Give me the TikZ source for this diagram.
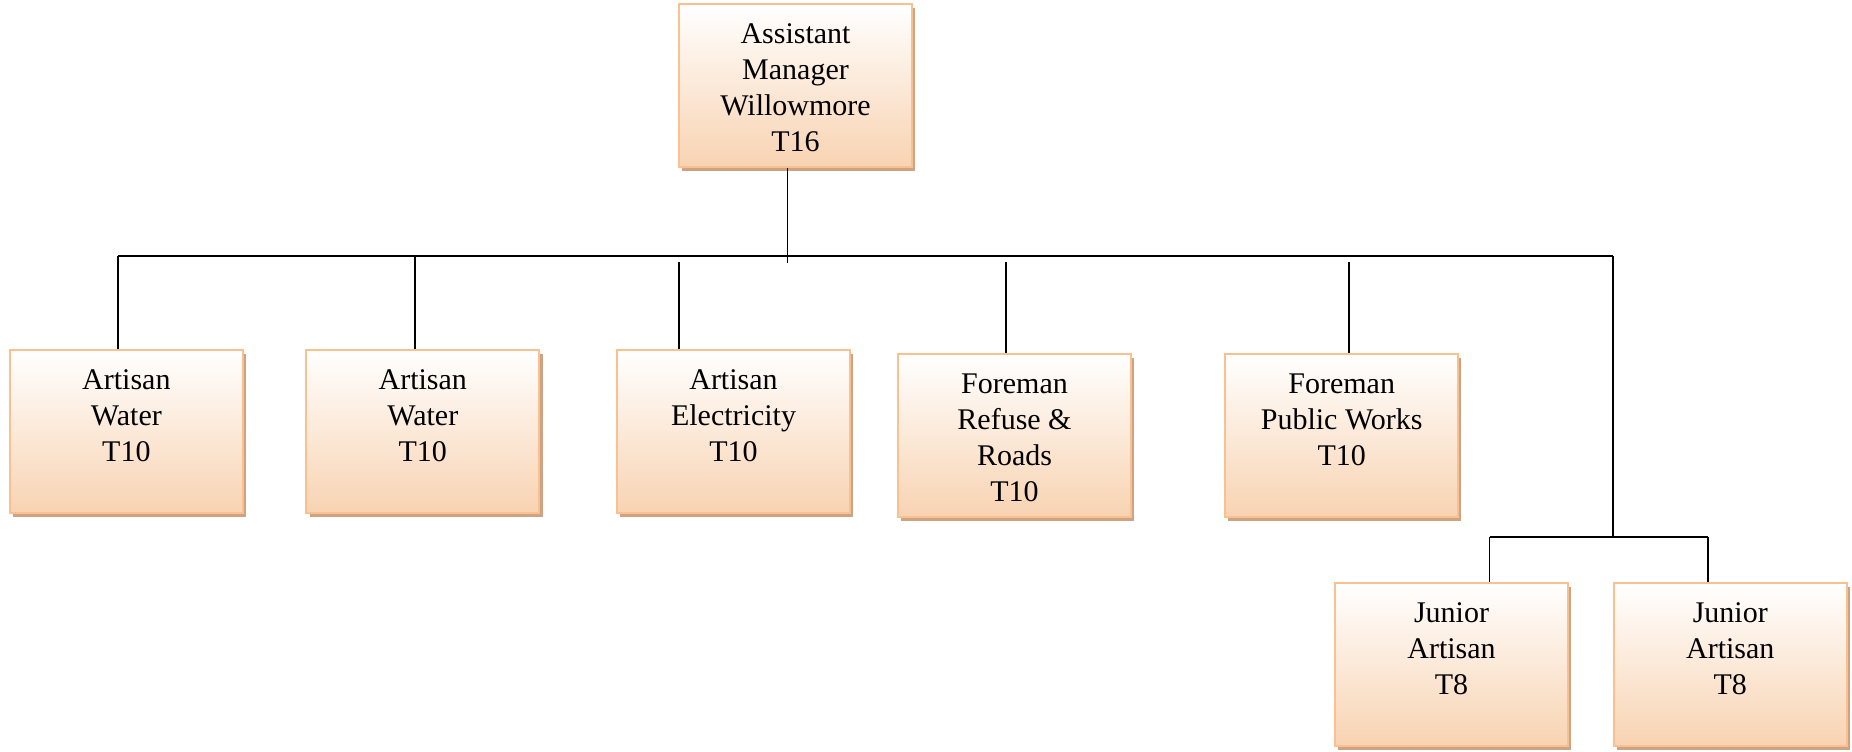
\documentclass[tikz,border=0pt]{standalone}
\usepackage{fontspec}
\setmainfont{Liberation Serif}
\usetikzlibrary{calc,shadows}
\definecolor{boxline}{RGB}{250,192,143}
\definecolor{boxbottom}{RGB}{248,211,178}
\definecolor{boxshadow}{RGB}{205,163,132}
% text block anchored near the top of each box
\newcommand\orgtext[1]{\parbox[c][81.5pt][t]{116pt}{\centering\rule{0pt}{19.5pt}#1}}
\tikzset{
  post/.style={draw=boxline, line width=1.1pt, top color=white, bottom color=boxbottom,
    inner sep=0pt, minimum width=116.5pt, minimum height=81.5pt,
    general shadow={fill=boxshadow, shadow xshift=1.6pt, shadow yshift=-2.2pt},
    font=\fontsize{15pt}{18pt}\selectfont},
  wire/.style={draw=black, line width=0.9pt}
}
\begin{document}
\begin{tikzpicture}[x=0.5pt,y=-0.5pt]
\useasboundingbox (0,0) rectangle (1852,751);
% posts
\node[post] (top) at (795.5,85.5) {\orgtext{Assistant\\Manager\\Willowmore\\T16}};
\node[post] (b1) at (126.4,431.5) {\orgtext{Artisan\\Water\\T10}};
\node[post] (b2) at (422.8,431.5) {\orgtext{Artisan\\Water\\T10}};
\node[post] (b3) at (733.5,431.5) {\orgtext{Artisan\\Electricity\\T10}};
\node[post] (b4) at (1014.5,435.5) {\orgtext{Foreman\\Refuse \&\\Roads\\T10}};
\node[post] (b5) at (1341.7,435.5) {\orgtext{Foreman\\Public Works\\T10}};
\node[post] (j1) at (1451.5,664.5) {\orgtext{Junior\\Artisan\\T8}};
\node[post] (j2) at (1730.3,664.5) {\orgtext{Junior\\Artisan\\T8}};
% bus and tap points
\coordinate (busL) at (118,256);
\coordinate (busR) at (1613,256);
\coordinate (t2) at (414.6,256);
\coordinate (t3) at (679.1,262);
\coordinate (t4) at (1006.3,262);
\coordinate (t5) at (1348.8,262);
\coordinate (jbus) at (1613,537);
\coordinate (jL) at (1489.5,537);
\coordinate (jR) at (1708,537);
\draw[wire] (busL) -- (busR);
\draw[wire] ($(top.south)+(-8,0)$) -- ++(0,95);
% branches to the first row
\draw[wire] (busL) -- (busL |- b1.north);
\draw[wire] (t2) -- (t2 |- b2.north);
\draw[wire] (t3) -- (t3 |- b3.north);
\draw[wire] (t4) -- (t4 |- b4.north);
\draw[wire] (t5) -- (t5 |- b5.north);
% branch to the junior posts
\draw[wire] (busR) -- (jbus);
\draw[wire] (jL) -- (jR);
\draw[wire] (jL) -- (jL |- j1.north);
\draw[wire] (jR) -- (jR |- j2.north);
\end{tikzpicture}
\end{document}
